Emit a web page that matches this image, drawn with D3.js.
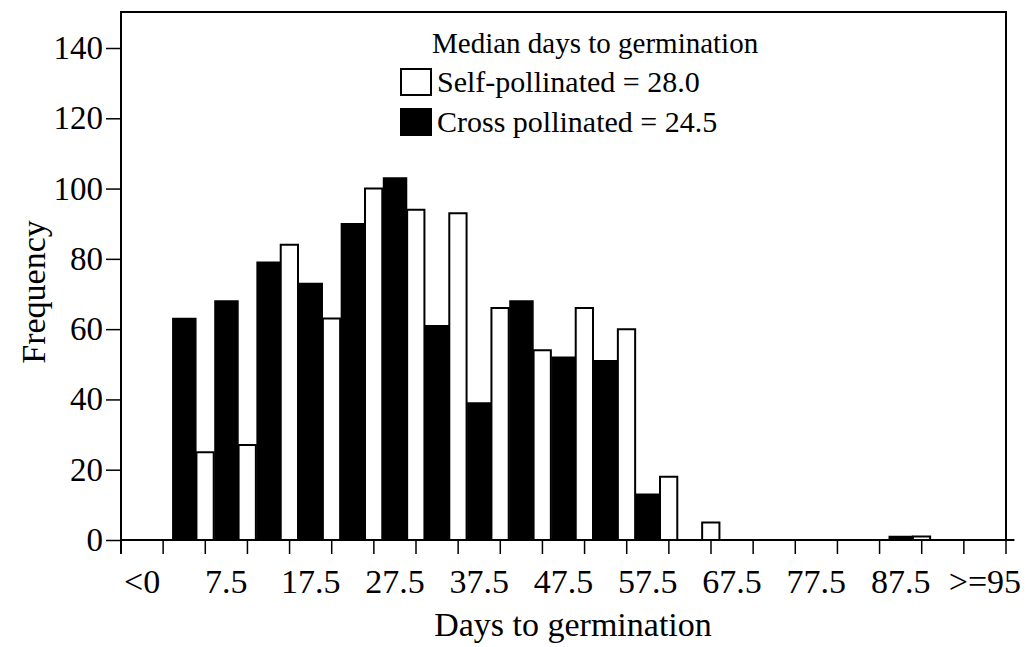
<!DOCTYPE html>
<html>
<head>
<meta charset="utf-8">
<script src="https://cdn.jsdelivr.net/npm/d3@7/dist/d3.min.js"></script>
<style>
  html, body { margin: 0; padding: 0; background: #fff; }
  svg { display: block; }
  text { font-family: "Liberation Serif", "Times New Roman", serif; fill: #000; }
</style>
</head>
<body>
<svg id="chart" width="1027" height="647"></svg>
<script>
// Bins of 5 days: "<0", then centres 2.5 ... 92.5, then ">=95"
const bins = ["<0", "2.5", "7.5", "12.5", "17.5", "22.5", "27.5", "32.5", "37.5", "42.5",
              "47.5", "52.5", "57.5", "62.5", "67.5", "72.5", "77.5", "82.5", "87.5", "92.5", ">=95"];
const tickLabels = ["<0", "7.5", "17.5", "27.5", "37.5", "47.5", "57.5", "67.5", "77.5", "87.5", ">=95"];
const crossValues = [0, 63, 68, 79, 73, 90, 103, 61, 39, 68, 52, 51, 13, 0, 0, 0, 0, 0, 1, 0, 0];
const selfValues  = [0, 25, 27, 84, 63, 100, 94, 93, 66, 54, 66, 60, 18, 5, 0, 0, 0, 0, 1, 0, 0];
const yTicks = [0, 20, 40, 60, 80, 100, 120, 140];
const legendTitle = "Median days to germination";
const selfLabel = "Self-pollinated = 28.0";
const crossLabel = "Cross pollinated = 24.5";

const svg = d3.select("#chart");
const plotLeft = 121, plotRight = 1006, plotTop = 12, plotBase = 540;

const x = d3.scaleBand().domain(bins).range([plotLeft, plotRight]).padding(0);
const y = d3.scaleLinear().domain([0, 140]).range([plotBase, 48]);
const bw = x.bandwidth();

// open-topped bar outline (zero-height bins collapse to a flat line)
function barPath(x0, x1, v) {
  const y0 = y(0), y1 = y(v);
  return `M${x0},${y0}V${y1}H${x1}V${y0}Z`;
}

const rows = bins.map((b, i) => ({ bin: b, cross: crossValues[i], self: selfValues[i] }));

// cross-pollinated (filled)
svg.append("g").selectAll("path").data(rows).join("path")
  .attr("d", d => barPath(x(d.bin) + 0.23 * bw, x(d.bin) + 0.775 * bw, d.cross))
  .attr("fill", "#000").attr("stroke", "#000").attr("stroke-width", 1.5);

// self-pollinated (open)
svg.append("g").selectAll("path").data(rows).join("path")
  .attr("d", d => barPath(x(d.bin) + 0.79 * bw, x(d.bin) + 1.2 * bw, d.self))
  .attr("fill", "#fff").attr("stroke", "#000").attr("stroke-width", 2);

// frame: top and right edges
svg.append("path")
  .attr("d", `M${plotLeft},${plotTop}H${plotRight}V${plotBase}`)
  .attr("fill", "none").attr("stroke", "#000").attr("stroke-width", 2);

// y axis
const yAxis = svg.append("g").attr("transform", `translate(${plotLeft},0)`)
  .call(d3.axisLeft(y).tickValues(yTicks).tickSize(15).tickPadding(3).tickFormat(d3.format("d")));
yAxis.select(".domain").remove();
yAxis.selectAll(".tick line").attr("stroke", "#000").attr("stroke-width", 1.5);
yAxis.selectAll(".tick text").style("font-size", "33px").style("font-family", "Liberation Serif, serif");
svg.append("line").attr("x1", plotLeft).attr("x2", plotLeft).attr("y1", plotTop - 1).attr("y2", plotBase + 14)
  .attr("stroke", "#000").attr("stroke-width", 2);

// x axis line and boundary ticks
svg.append("line").attr("x1", plotLeft).attr("x2", plotRight).attr("y1", plotBase).attr("y2", plotBase)
  .attr("stroke", "#000").attr("stroke-width", 2);
const edges = bins.map(b => x(b)).concat([plotRight]);
svg.append("g").selectAll("line").data(edges).join("line")
  .attr("x1", d => d).attr("x2", d => d).attr("y1", plotBase).attr("y2", plotBase + 14)
  .attr("stroke", "#000").attr("stroke-width", 1.5);

// x tick labels centred on every other bin
svg.append("g").selectAll("text").data(tickLabels).join("text")
  .attr("x", d => x(d) + bw / 2)
  .attr("y", 593)
  .attr("text-anchor", "middle")
  .style("font-size", "34px")
  .text(d => d);

// axis titles
svg.append("text").attr("x", 573).attr("y", 636).attr("text-anchor", "middle")
  .style("font-size", "34px").text("Days to germination");
svg.append("text").attr("transform", "translate(45,292) rotate(-90)").attr("text-anchor", "middle")
  .style("font-size", "34px").text("Frequency");

// legend
const lg = svg.append("g");
lg.append("text").attr("x", 432).attr("y", 53).style("font-size", "29px").text(legendTitle);
lg.append("rect").attr("x", 401).attr("y", 69).attr("width", 30).attr("height", 26)
  .attr("fill", "#fff").attr("stroke", "#000").attr("stroke-width", 2);
lg.append("text").attr("x", 437).attr("y", 92).style("font-size", "30px").text(selfLabel);
lg.append("rect").attr("x", 401).attr("y", 109).attr("width", 30).attr("height", 26)
  .attr("fill", "#000").attr("stroke", "#000").attr("stroke-width", 2);
lg.append("text").attr("x", 437).attr("y", 132).style("font-size", "30px").text(crossLabel);
</script>
</body>
</html>
